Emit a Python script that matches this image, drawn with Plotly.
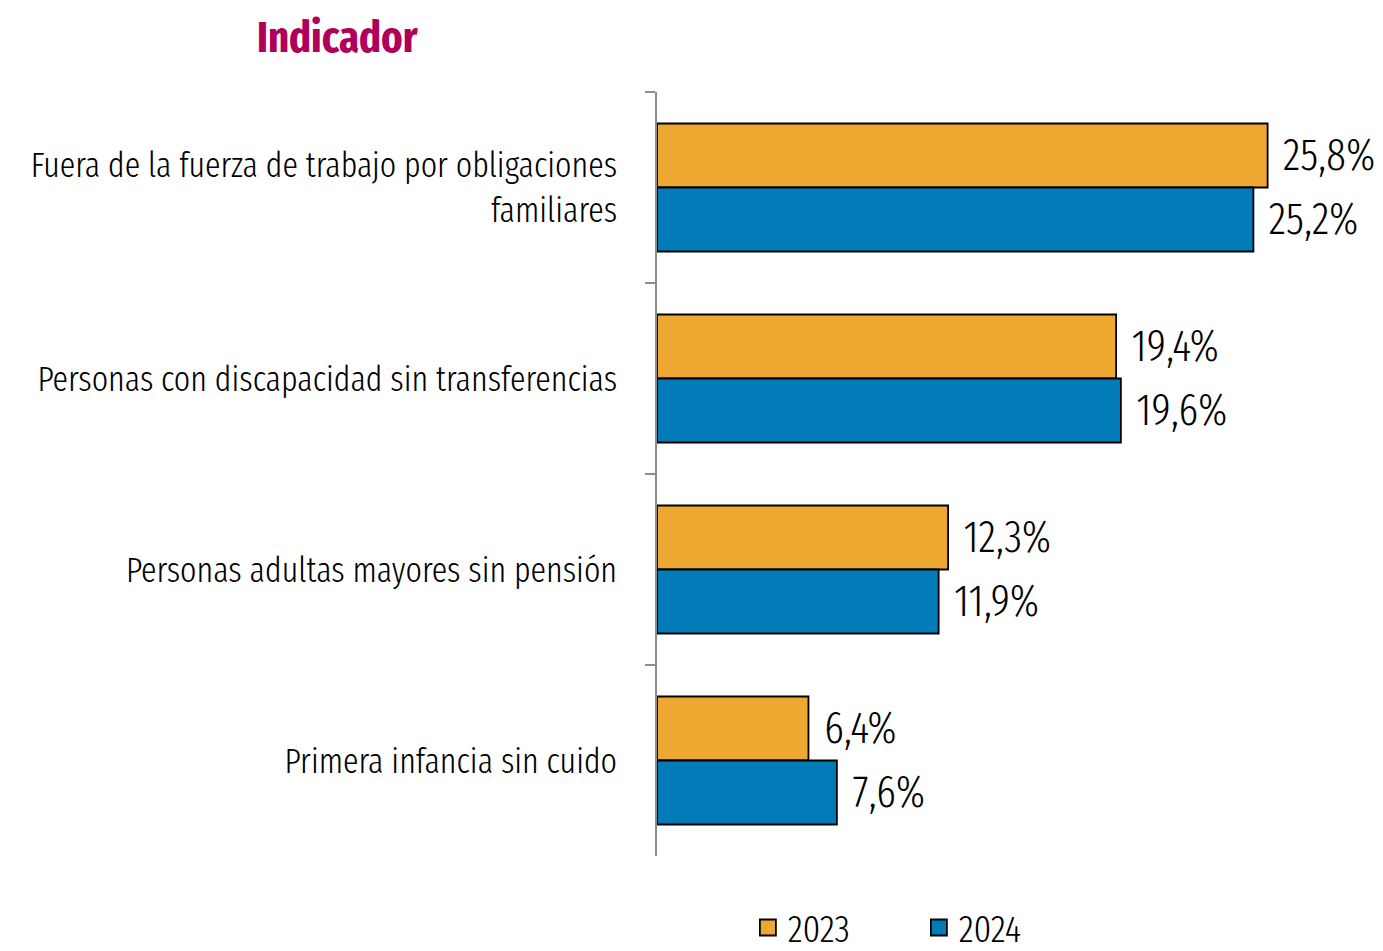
import plotly.graph_objects as go

CATEGORIES = [
    "Fuera de la fuerza de trabajo por obligaciones<br>familiares",
    "Personas con discapacidad sin transferencias",
    "Personas adultas mayores sin pensión",
    "Primera infancia sin cuido",
]
YEARS = ["2023", "2024"]
VALUES_2023 = [25.8, 19.4, 12.3, 6.4]
VALUES_2024 = [25.2, 19.6, 11.9, 7.6]

ORANGE, BLUE = "#EEA731", "#017CB8"
MAGENTA = "#B0005A"
AXIS = "#8c8c8c"
FONT = "Fira Sans Extra Condensed, Fira Sans Condensed, Liberation Sans Narrow, sans-serif"
GAP = "\u00a0\u200a"

# the page body adds an 8px offset at top/left, so shrink the figure to fit the window
W, H = 1375, 943

fig = go.Figure()
for name, vals, color in zip(YEARS, (VALUES_2023, VALUES_2024), (ORANGE, BLUE)):
    fig.add_trace(
        go.Bar(
            name=name,
            x=vals,
            y=CATEGORIES,
            orientation="h",
            marker=dict(color=color, line=dict(color="#000000", width=1.8)),
            text=vals,
            texttemplate=GAP + "%{x:.1f}%",
            textposition="outside",
            textfont=dict(size=44, color="#000000", weight=300),
            cliponaxis=False,
            showlegend=False,
        )
    )
    # legend proxy with a larger square swatch
    fig.add_trace(
        go.Scatter(
            name=name,
            x=[None],
            y=[None],
            mode="markers",
            marker=dict(symbol="square", size=25, color=color, line=dict(color="#000000", width=1.8)),
            hoverinfo="skip",
        )
    )

fig.update_layout(
    width=W,
    height=H,
    barmode="group",
    bargap=0.33,
    bargroupgap=0,
    separators=",.",
    paper_bgcolor="white",
    plot_bgcolor="white",
    font=dict(family=FONT, size=34.8, color="#000000", weight=300),
    margin=dict(l=649, r=16, t=84, b=95, autoexpand=False),
    showlegend=True,
    legend=dict(
        orientation="h",
        x=0.128,
        y=-0.094,
        xanchor="left",
        yanchor="middle",
        font=dict(size=38),
        entrywidth=126,
        itemsizing="trace",
    ),
    annotations=[
        dict(
            text="<b>Indicador</b>",
            x=-0.449,
            y=1.071,
            xref="paper",
            yref="paper",
            xanchor="center",
            yanchor="middle",
            showarrow=False,
            font=dict(size=44, color=MAGENTA, weight=600),
        )
    ],
)
fig.update_xaxes(range=[0, 30], visible=False, showgrid=False, zeroline=False, automargin=False)
fig.update_yaxes(
    autorange="reversed",
    automargin=False,
    showline=True,
    linecolor=AXIS,
    linewidth=2,
    ticks="outside",
    tickson="boundaries",
    ticklen=10,
    tickcolor=AXIS,
    tickwidth=2,
    ticklabelstandoff=31,
    showgrid=False,
)

fig.write_html("out.html")
